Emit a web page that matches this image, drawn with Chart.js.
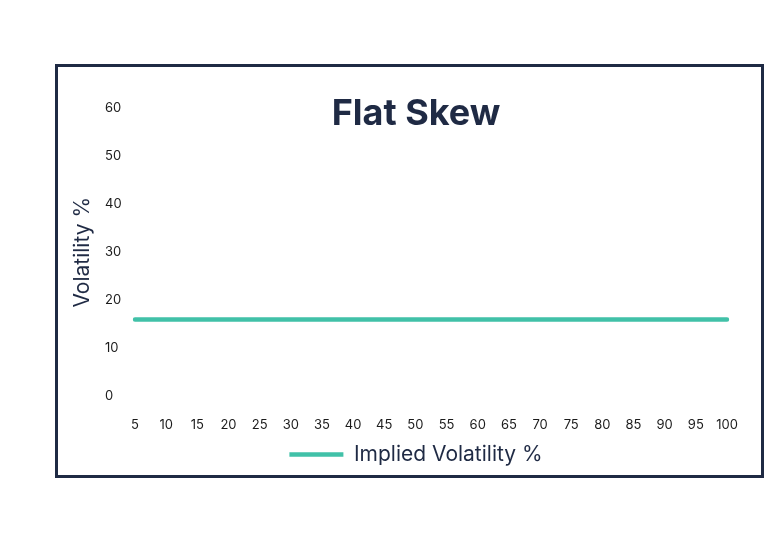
<!DOCTYPE html>
<html>
<head>
<meta charset="utf-8">
<script src="https://cdn.jsdelivr.net/npm/chart.js@4/dist/chart.umd.min.js"></script>
<style>
  html, body { margin: 0; padding: 0; background: #fff; }
  #frame {
    position: absolute;
    left: 55px;
    top: 64px;
    width: 703px;
    height: 408px;
    border: 3px solid #1f2a44;
    background: #fff;
  }
  #frame canvas { display: block; }
</style>
</head>
<body>
<div id="frame"><canvas id="skewChart" width="703" height="408"></canvas></div>
<script>
// strike labels along the x axis
const strikes = ['5', '10', '15', '20', '25', '30', '35', '40', '45', '50',
                 '55', '60', '65', '70', '75', '80', '85', '90', '95', '100'];
// implied volatility, same value at every strike
const impliedVol = [16, 16, 16, 16, 16, 16, 16, 16, 16, 16,
                    16, 16, 16, 16, 16, 16, 16, 16, 16, 16];
const volTicks = [0, 10, 20, 30, 40, 50, 60];

const navy = '#1f2a44';
const teal = '#41c1a8';
const fontFamily = 'Inter, "Open Sans", sans-serif';

document.addEventListener('DOMContentLoaded', function () {
    const ctx = document.getElementById('skewChart').getContext('2d');
    new Chart(ctx, {
        type: 'line',
        data: {
            labels: strikes,
            datasets: [{
                label: 'Implied Volatility %',
                data: impliedVol,
                borderColor: teal,
                backgroundColor: teal,
                borderWidth: 4.5,
                borderCapStyle: 'round',
                pointRadius: 0,
                pointHoverRadius: 0,
                fill: false,
                tension: 0
            }]
        },
        options: {
            responsive: false,
            animation: false,
            layout: { padding: { left: 47, right: 34, top: 0, bottom: 0 } },
            scales: {
                x: {
                    grid: { display: false, drawTicks: false },
                    border: { display: false },
                    // let the legend sit closer under the tick labels
                    afterFit: function (scale) { scale.height = scale.height - 20; },
                    ticks: {
                        color: '#1b1b1b',
                        font: { family: fontFamily, size: 13 },
                        padding: 21,
                        maxRotation: 0,
                        autoSkip: false
                    }
                },
                y: {
                    min: 0,
                    max: 60,
                    grid: { display: false, drawTicks: false },
                    border: { display: false },
                    afterFit: function (scale) { scale.width = 30; },
                    afterBuildTicks: function (scale) {
                        scale.ticks = volTicks.map(v => ({ value: v }));
                    },
                    ticks: {
                        color: '#1b1b1b',
                        font: { family: fontFamily, size: 13 },
                        crossAlign: 'far'
                    },
                    title: {
                        display: true,
                        text: 'Volatility %',
                        color: navy,
                        font: { family: fontFamily, size: 21 },
                        padding: { top: -35, bottom: 0 }
                    }
                }
            },
            plugins: {
                title: {
                    display: true,
                    text: 'Flat Skew',
                    color: navy,
                    font: { family: fontFamily, size: 36, weight: 'bold' },
                    padding: { top: 26, bottom: -28 }
                },
                legend: {
                    position: 'bottom',
                    labels: {
                        color: navy,
                        font: { family: fontFamily, size: 21 },
                        usePointStyle: true,
                        pointStyle: 'line',
                        pointStyleWidth: 54,
                        padding: 10
                    }
                },
                tooltip: { enabled: false }
            }
        }
    });
});
</script>
</body>
</html>
